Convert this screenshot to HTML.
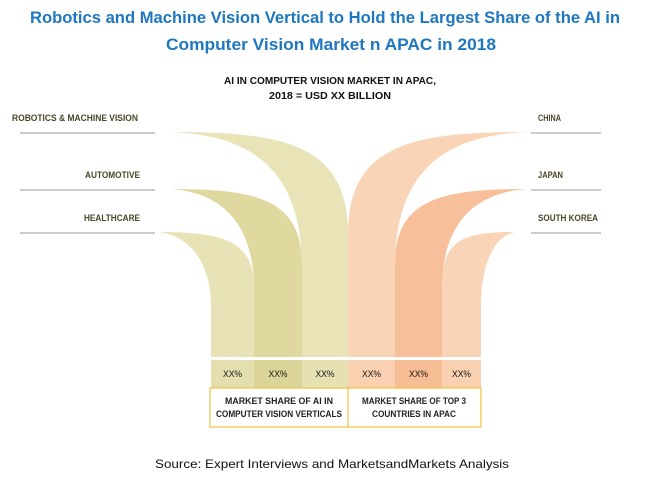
<!DOCTYPE html>
<html><head><meta charset="utf-8"><style>
body{margin:0;width:650px;height:487px;background:#fff;overflow:hidden;font-family:"Liberation Sans",sans-serif}
svg{position:absolute;left:0;top:0}
</style></head><body>
<svg width="650" height="487">
<text x="325" y="23" text-anchor="middle" font-size="16.5" font-weight="bold" fill="#1f77c0" textLength="590" lengthAdjust="spacingAndGlyphs">Robotics and Machine Vision Vertical to Hold the Largest Share of the AI in</text>
<text x="331" y="50" text-anchor="middle" font-size="16.5" font-weight="bold" fill="#1f77c0" textLength="330" lengthAdjust="spacingAndGlyphs">Computer Vision Market n APAC in 2018</text>
<text x="330" y="84" text-anchor="middle" font-size="10.5" font-weight="bold" fill="#111" textLength="212" lengthAdjust="spacingAndGlyphs">AI IN COMPUTER VISION MARKET IN APAC,</text>
<text x="330" y="99" text-anchor="middle" font-size="10.5" font-weight="bold" fill="#111" textLength="122" lengthAdjust="spacingAndGlyphs">2018 = USD XX BILLION</text>
<g id="shapes"></g>
<g id="labels" font-size="9" fill="#4a4628" font-weight="bold"></g>
<rect x="210" y="388" width="271" height="39" fill="none" stroke="#f0c040" stroke-width="1.2"/>
<line x1="348" y1="388" x2="348" y2="427" stroke="#f0c040" stroke-width="1.2"/>
<text x="279" y="404" text-anchor="middle" font-size="9.5" font-weight="bold" fill="#222"><tspan x="279" textLength="108" lengthAdjust="spacingAndGlyphs">MARKET SHARE OF AI IN</tspan><tspan x="279" dy="13" textLength="126" lengthAdjust="spacingAndGlyphs">COMPUTER VISION VERTICALS</tspan></text>
<text x="414" y="404" text-anchor="middle" font-size="9.5" font-weight="bold" fill="#222"><tspan x="414" textLength="104" lengthAdjust="spacingAndGlyphs">MARKET SHARE OF TOP 3</tspan><tspan x="414" dy="13" textLength="84" lengthAdjust="spacingAndGlyphs">COUNTRIES IN APAC</tspan></text>
<text x="332" y="468" text-anchor="middle" font-size="12" fill="#111" textLength="354" lengthAdjust="spacingAndGlyphs">Source: Expert Interviews and MarketsandMarkets Analysis</text>
</svg>
<script>
const categories=["HEALTHCARE","AUTOMOTIVE","ROBOTICS & MACHINE VISION","CHINA","JAPAN","SOUTH KOREA"];
const shareLabels=["XX%","XX%","XX%","XX%","XX%","XX%"];
const colLeft=[211,254,302,348,395,442];
const colRight=[254,302,348,395,442,481];
const tipY=[232,189,132,132,189,232];
const tipX=[159,171,171,527,527,515];
const fills=["#e7e3b6","#dfd89f","#e8e4b8","#fad4b6","#f8c09a","#fad4b6"];
const bands=["#e3dfae","#dbd498","#e5e1b3","#f9d1b1","#f7bd95","#f9d1b1"];
const labW=[56,55,126,23,25,60];
const NS="http://www.w3.org/2000/svg";
const g=document.getElementById('shapes');
const colBottom=357;
for(let i=0;i<6;i++){
  const L=colLeft[i],R=colRight[i],ty=tipY[i],tx=tipX[i];
  const left=i<3;
  const outer=left?R:L, inner=left?L:R;
  const h=colBottom-ty;
  const d=`M${tx},${ty} C${(tx+outer)/2+ (left?20:-20)},${ty} ${outer},${ty+10} ${outer},${ty+h*0.45} L${outer},${colBottom} L${inner},${colBottom} L${inner},${ty+h*0.6} C${inner},${ty+25} ${(tx+inner)/2},${ty+3} ${tx},${ty} Z`;
  const p=document.createElementNS(NS,'path');
  p.setAttribute('d',d);p.setAttribute('fill',fills[i]);
  
  
  g.appendChild(p);
  const b=document.createElementNS(NS,'rect');
  b.setAttribute('x',L);b.setAttribute('y',360);b.setAttribute('width',R-L);b.setAttribute('height',28);b.setAttribute('fill',bands[i]);
  
  
  g.appendChild(b);
  const t=document.createElementNS(NS,'text');
  t.setAttribute('x',(L+R)/2);t.setAttribute('y',377);t.setAttribute('text-anchor','middle');t.setAttribute('font-size','9.5');t.setAttribute('fill','#111');
  t.setAttribute('textLength','19');t.setAttribute('lengthAdjust','spacingAndGlyphs');
  t.textContent=shareLabels[i];
  
  
  g.appendChild(t);
}
const lg=document.getElementById('labels');
const labX=[140,140,138,538,538,538];
for(let i=0;i<6;i++){
  const left=i<3;
  const t=document.createElementNS(NS,'text');
  t.setAttribute('x',labX[i]);t.setAttribute('y',tipY[i]-11);
  t.setAttribute('text-anchor',left?'end':'start');
  t.setAttribute('textLength',labW[i]);t.setAttribute('lengthAdjust','spacingAndGlyphs');
  t.textContent=categories[i];
  
  
  lg.appendChild(t);
  const l=document.createElementNS(NS,'line');
  l.setAttribute('x1',left?20:531);l.setAttribute('x2',left?155:601);
  l.setAttribute('y1',tipY[i]+1);l.setAttribute('y2',tipY[i]+1);
  l.setAttribute('stroke','#999');l.setAttribute('stroke-width','1');
  
  
  lg.appendChild(l);
}
</script>
</body></html>
